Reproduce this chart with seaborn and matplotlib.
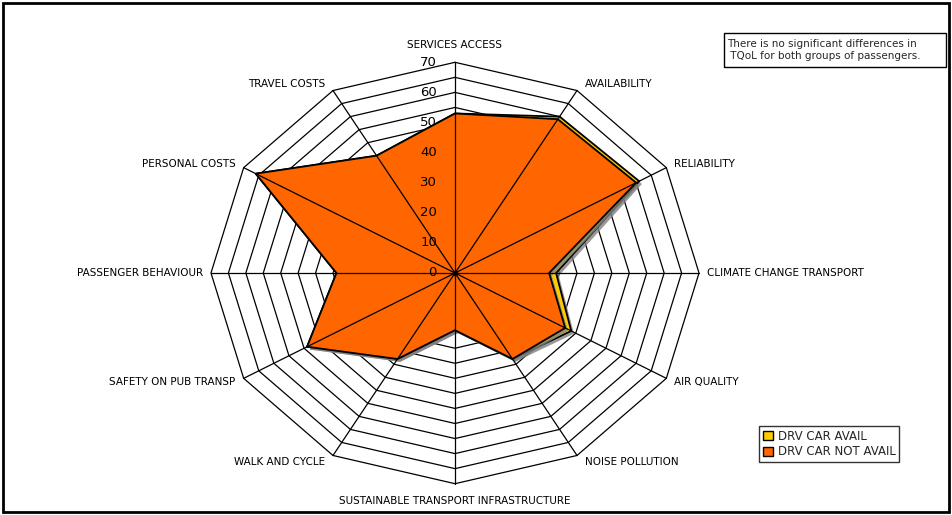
import numpy as np
import seaborn as sns
import matplotlib.pyplot as plt
import matplotlib.patheffects as pe
from matplotlib.patches import Patch, Rectangle

# Datos del gráfico radar
categorias = ['SERVICES ACCESS', 'AVAILABILITY', 'RELIABILITY', 'CLIMATE CHANGE TRANSPORT',
              'AIR QUALITY', 'NOISE POLLUTION', 'SUSTAINABLE TRANSPORT INFRASTRUCTURE',
              'WALK AND CYCLE', 'SAFETY ON PUB TRANSP', 'PASSENGER BEHAVIOUR',
              'PERSONAL COSTS', 'TRAVEL COSTS']
car_avail = [53, 60, 61, 29, 38.5, 33, 19, 33, 49, 34, 66, 45]
car_not_avail = [53, 59, 60, 27, 36.5, 33, 19, 33, 49, 34, 66, 45]
niveles = [0, 10, 20, 30, 40, 50, 60, 70]
series = ['DRV CAR AVAIL', 'DRV CAR NOT AVAIL']
colores = ['#FFCC00', '#FF6600']
nota = 'There is no significant differences in\n TQoL for both groups of passengers.'

sns.set_theme(style='white')
plt.rcParams['font.family'] = ['DejaVu Sans']

W, H = 952, 515
fig = plt.figure(figsize=(W / 100, H / 100), dpi=100)
ax = fig.add_axes([0, 0, 1, 1])

# escalas: centro en (455, 273) px, 3.486 px/unidad en x, 3.01 px/unidad en y
cx, cy, sx, sy = 455, 273, 3.486, 3.01
ax.set_xlim(-cx / sx, (W - cx) / sx)
ax.set_ylim(-(H - cy) / sy, cy / sy)
ax.axis('off')

n = len(categorias)
ang = np.arange(n) * 2 * np.pi / n


def xy(vals):
    v = np.asarray(vals, dtype=float)
    return np.r_[v * np.sin(ang), v[0] * np.sin(ang[0])], np.r_[v * np.cos(ang), v[0] * np.cos(ang[0])]


# anillos de la rejilla (cada 5 unidades)
for r in np.arange(5, 75, 5):
    gx, gy = xy([r] * n)
    ax.plot(gx, gy, color='black', lw=0.9, zorder=1)

# series
sombra = [pe.SimplePatchShadow(offset=(2, -2), shadow_rgbFace='gray', alpha=0.8), pe.Normal()]
for nombre, vals, col in zip(series, [car_avail, car_not_avail], colores):
    px, py = xy(vals)
    ax.fill(px, py, facecolor=col, edgecolor='black', lw=1.3, zorder=2, path_effects=sombra)

# radios
for a in ang:
    ax.plot([0, 70 * np.sin(a)], [0, 70 * np.cos(a)], color='black', lw=0.9, zorder=3)
ax.plot([0], [0], 'o', color='black', ms=3, zorder=4)

# etiquetas de nivel
for r in niveles:
    ax.annotate(str(r), (0, r), xytext=(-18, 0), textcoords='offset pixels',
                ha='right', va='center', fontsize=9.5, color='black', zorder=5)

# etiquetas de categorías
for cat, a in zip(categorias, ang):
    s, c = np.sin(a), np.cos(a)
    if abs(s) < 1e-6:
        ha, dx, dy = 'center', 0, 17 * np.sign(c)
    else:
        ha = 'left' if s > 0 else 'right'
        dx, dy = 8 * np.sign(s), 8 * c
    ax.annotate(cat, (70 * s, 70 * c), xytext=(dx, dy), textcoords='offset pixels',
                ha=ha, va='center', fontsize=7.5, color='black')

# leyenda
handles = [Patch(facecolor=col, edgecolor='black', lw=1) for col in colores]
leg = fig.legend(handles, series, loc='upper left', bbox_to_anchor=(759 / W, 1 - 426 / H),
                 frameon=True, fancybox=False, fontsize=8.5, handlelength=0.9, handleheight=0.9,
                 handletextpad=0.4, borderpad=0.3, labelspacing=0.25, borderaxespad=0)
leg.get_frame().set_edgecolor('black')
leg.get_frame().set_linewidth(1)

# nota
fig.text(727 / W, 1 - 50 / H, nota, ha='left', va='center', fontsize=7.5, linespacing=1.3)
fig.patches.append(Rectangle((724 / W, 1 - 67 / H), 222 / W, 34 / H, transform=fig.transFigure,
                             fill=False, edgecolor='black', lw=1))

# marco exterior
fig.patches.append(Rectangle((3 / W, 3 / H), 946 / W, 509 / H, transform=fig.transFigure,
                             fill=False, edgecolor='black', lw=2))

plt.savefig('out.png', dpi=100)
